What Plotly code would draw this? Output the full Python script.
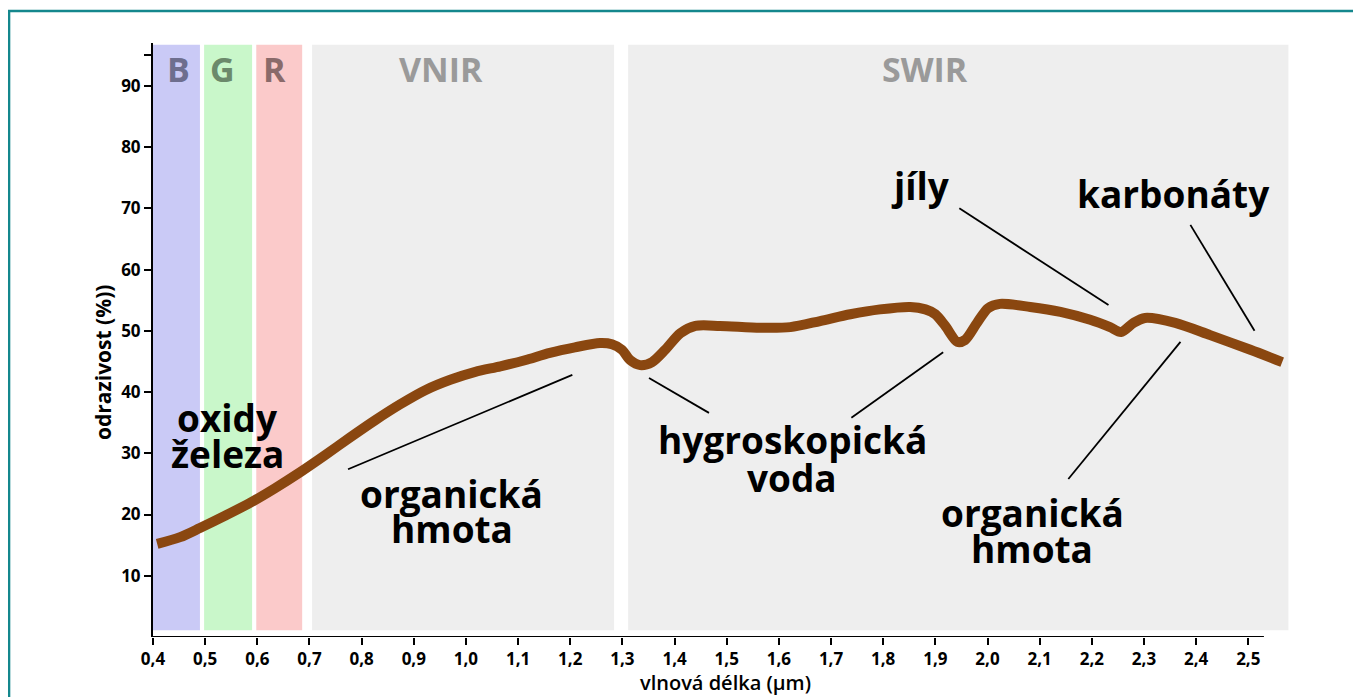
import plotly.graph_objects as go

# reflectance curve of soil (wavelength in um, reflectance in %)
wavelength = [0.408, 0.452, 0.490, 0.538, 0.586, 0.634, 0.682, 0.730, 0.778, 0.826,
              0.874, 0.922, 0.970, 1.018, 1.066, 1.113, 1.161, 1.209, 1.257, 1.280,
              1.299, 1.315, 1.334, 1.357, 1.382, 1.411, 1.440, 1.487, 1.564, 1.622,
              1.679, 1.737, 1.794, 1.852, 1.881, 1.900, 1.919, 1.942, 1.957, 1.980,
              2.001, 2.024, 2.082, 2.140, 2.197, 2.235, 2.256, 2.280, 2.302, 2.360,
              2.427, 2.504, 2.565]
reflectance = [15.2, 16.3, 17.8, 19.8, 21.9, 24.3, 26.9, 29.7, 32.6, 35.4,
               38.0, 40.3, 42.0, 43.3, 44.2, 45.2, 46.4, 47.3, 48.0, 47.8,
               46.9, 45.2, 44.4, 44.9, 46.9, 49.6, 50.8, 50.8, 50.5, 50.6,
               51.6, 52.7, 53.5, 53.9, 53.5, 52.7, 50.8, 48.2, 48.5, 51.3,
               53.7, 54.4, 53.9, 53.1, 51.8, 50.6, 49.8, 51.3, 52.1, 51.3,
               49.3, 46.9, 44.9]

# spectral bands
band_names = ["B", "G", "R", "VNIR", "SWIR"]
band_start = [0.400, 0.498, 0.598, 0.705, 1.311]
band_end = [0.490, 0.590, 0.686, 1.284, 2.577]
band_fill = ["#cacaf6", "#c9f7ca", "#fbcaca", "#eeeeee", "#eeeeee"]
band_text_color = ["#6e6e8e", "#6b896b", "#8a6a6a", "#9a9a9a", "#9a9a9a"]
band_label_x = [0.448, 0.534, 0.632, 0.952, 1.881]

# labels and their leader lines (x0, y0, x1, y1)
labels = ["oxidy", "železa", "organická", "hmota", "hygroskopická", "voda",
          "organická", "hmota", "jíly", "karbonáty"]
label_x = [0.542, 0.542, 0.973, 0.973, 1.626, 1.626, 2.086, 2.086, 1.871, 2.356]
label_y = [35.9, 30.0, 23.5, 17.8, 32.2, 26.0, 20.4, 14.5, 73.8, 72.5]
leaders = [
    (0.774, 27.4, 1.204, 42.8),
    (1.351, 42.3, 1.466, 36.6),
    (1.915, 46.5, 1.739, 35.8),
    (1.946, 70.0, 2.232, 54.2),
    (2.389, 67.3, 2.512, 50.0),
    (2.370, 48.2, 2.155, 25.8),
]

x_ticks = [round(0.4 + 0.1 * i, 1) for i in range(22)]
x_ticktext = [f"{v:.1f}".replace(".", ",") for v in x_ticks]
y_ticks = [10, 20, 30, 40, 50, 60, 70, 80, 90, 95]
y_ticktext = ["10", "20", "30", "40", "50", "60", "70", "80", "90", ""]

FONT = "Open Sans"

fig = go.Figure()

shapes = []
for s, e, c in zip(band_start, band_end, band_fill):
    shapes.append(dict(type="rect", xref="x", yref="y", x0=s, x1=e, y0=1.1, y1=96.7,
                       fillcolor=c, line=dict(width=0), layer="below"))
for x0, y0, x1, y1 in leaders:
    shapes.append(dict(type="line", xref="x", yref="y", x0=x0, y0=y0, x1=x1, y1=y1,
                       line=dict(color="black", width=1.8)))
# x axis line (shorter than the band area)
shapes.append(dict(type="line", xref="x", yref="y", x0=0.39, x1=2.53, y0=0, y1=0,
                   line=dict(color="black", width=2)))
# frame of the figure
shapes.append(dict(type="rect", xref="paper", yref="paper", x0=-0.1266, x1=1.2,
                   y0=-0.4, y1=1.0539, line=dict(color="#14878d", width=2.5),
                   fillcolor="rgba(0,0,0,0)"))

fig.add_trace(go.Scatter(
    x=wavelength, y=reflectance, mode="lines",
    line=dict(color="#8a4710", width=10, shape="spline", smoothing=0.8),
    hoverinfo="skip", showlegend=False,
))

annotations = []
for name, bx, tc in zip(band_names, band_label_x, band_text_color):
    annotations.append(dict(x=bx, y=92.8, xref="x", yref="y", text=name, showarrow=False,
                            font=dict(family=FONT, size=34, color=tc, weight="bold")))
for t, lx, ly in zip(labels, label_x, label_y):
    annotations.append(dict(x=lx, y=ly, xref="x", yref="y", text=t, showarrow=False,
                            font=dict(family=FONT, size=37, color="black", weight="bold")))
annotations.append(dict(x=-0.044, y=44.9, xref="paper", yref="y", text="odrazivost (%))",
                        textangle=-90, showarrow=False, xanchor="center", yanchor="middle",
                        font=dict(family=FONT, size=21, color="black", weight="bold")))
annotations.append(dict(x=1.497, y=-0.0774, xref="x", yref="paper", text="vlnová délka (µm)",
                        showarrow=False, xanchor="center", yanchor="middle",
                        font=dict(family=FONT, size=20, color="black", weight=600)))

# page body has an 8px margin, so the figure starts 8px in from the window corner
fig.update_layout(
    width=1353, height=689,
    margin=dict(l=145, r=71, t=35, b=60),
    paper_bgcolor="white", plot_bgcolor="white",
    shapes=shapes, annotations=annotations,
    showlegend=False,
)
fig.update_xaxes(
    range=[0.4, 2.58], showline=False, showgrid=False, zeroline=False,
    tickmode="array", tickvals=x_ticks, ticktext=x_ticktext,
    ticks="outside", ticklen=7, tickwidth=2, tickcolor="black",
    tickfont=dict(family=FONT, size=17, color="black", weight="bold"),
)
fig.update_yaxes(
    range=[0, 97], showline=True, linecolor="black", linewidth=2,
    showgrid=False, zeroline=False,
    tickmode="array", tickvals=y_ticks, ticktext=y_ticktext,
    ticks="outside", ticklen=7, tickwidth=2, tickcolor="black",
    tickfont=dict(family=FONT, size=17, color="black", weight="bold"),
)

fig.write_html("out.html")
